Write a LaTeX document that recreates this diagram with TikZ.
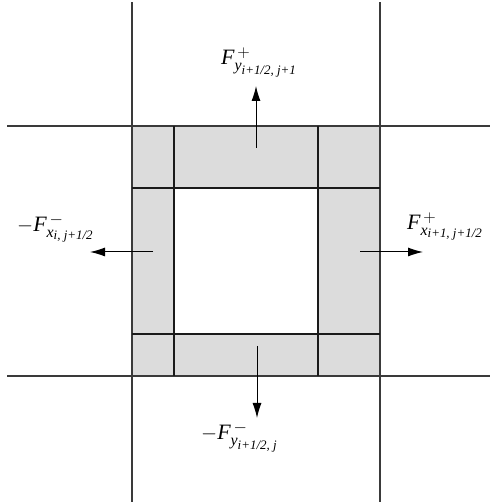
\documentclass[tikz,border=0pt]{standalone}
\usepackage{amsmath}
\usepackage{fontspec}
\setmainfont{Liberation Serif}
\DeclareMathSizes{22}{22}{16}{13}
\usepackage{tikz}
\usetikzlibrary{
  arrows.meta,
  positioning,
  calc
}
\definecolor{fvGrid}{HTML}{3A3A3A}
\definecolor{fvCell}{HTML}{1A1A1A}
\definecolor{fvShade}{HTML}{DCDCDC}
\tikzset{
  gridline/.style={line width=1.1bp, fvGrid},
  cellline/.style={line width=1.7bp, fvCell},
  shaded/.style={fill=fvShade, draw=none, even odd rule},
  flux/.style={-{Latex[length=15bp, width=9bp]}, line width=1bp, black},
  fluxlabel/.style={anchor=base west, inner sep=0pt, font=\fontsize{22}{26}\selectfont}
}

\begin{document}
\begin{tikzpicture}[x=1bp, y=1bp]
  \useasboundingbox (0,0) rectangle (497,504);

  % shaded border of the cell
  \fill[shaded] (132,128) rectangle (380,378) (174,170) rectangle (318,316);

  % outer grid lines
  \draw[gridline] (132,2) -- (132,502);
  \draw[gridline] (380,2) -- (380,502);
  \draw[gridline] (7,378) -- (490,378);
  \draw[gridline] (7,128) -- (490,128);

  % inner cell lines
  \draw[cellline] (174,128) -- (174,378);
  \draw[cellline] (318,128) -- (318,378);
  \draw[cellline] (132,316) -- (380,316);
  \draw[cellline] (132,170) -- (380,170);

  % flux arrows
  \coordinate (topS) at (256,356);   \coordinate (topT) at (256,418);
  \coordinate (leftS) at (153,252);  \coordinate (leftT) at (90,252);
  \coordinate (rightS) at (360,252); \coordinate (rightT) at (423,252);
  \coordinate (botS) at (257,158);   \coordinate (botT) at (257,86);
  \draw[flux] (topS) -- (topT);
  \draw[flux] (leftS) -- (leftT);
  \draw[flux] (rightS) -- (rightT);
  \draw[flux] (botS) -- (botT);

  % labels
  \node[fluxlabel] (Ftop) at (221,439)
    {$\textit{F}^{\,+}_{\textit{y}_{\textit{i+1/2, j+1}}}$};
  \node[fluxlabel] (Fleft) at (17,272)
    {$-\textit{F}^{\,-}_{\textit{x}_{\textit{i, j+1/2}}}$};
  \node[fluxlabel] (Fright) at (407,274)
    {$\textit{F}^{\,+}_{\textit{x}_{\textit{i+1, j+1/2}}}$};
  \node[fluxlabel] (Fbot) at (201,64)
    {$-\textit{F}^{\,-}_{\textit{y}_{\textit{i+1/2, j}}}$};
\end{tikzpicture}
\end{document}
